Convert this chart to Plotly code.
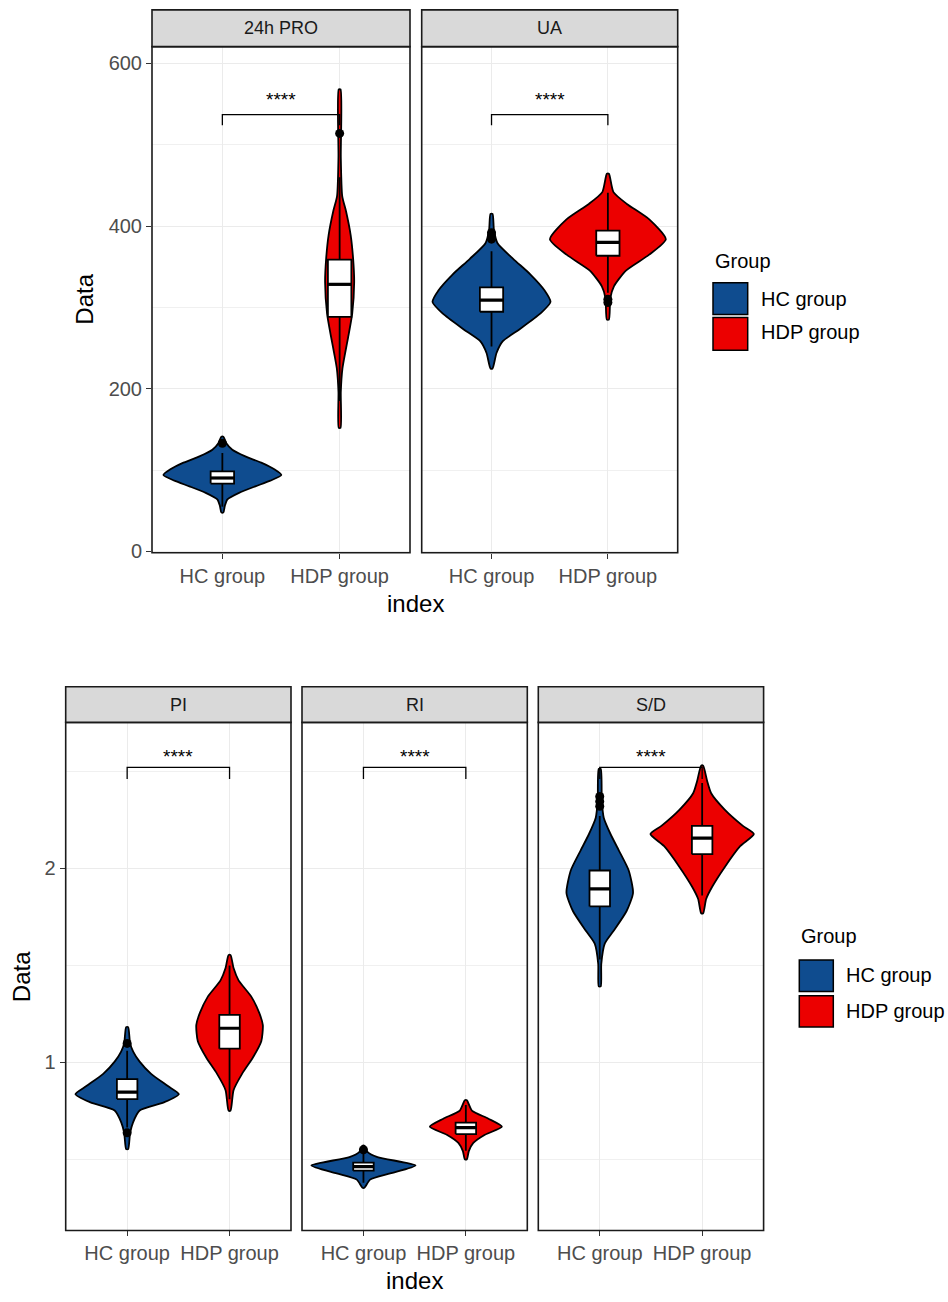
import plotly.graph_objects as go

# ---------------- data ----------------
CATEGORIES = ["HC group", "HDP group"]
PANELS = ["24h PRO", "UA", "PI", "RI", "S/D"]
SIG_LABELS = ["****", "****", "****", "****", "****"]

# violin outlines: value levels and half-widths (x-axis units)
PRO24_HC_Y = [48, 56, 64, 72, 80, 87, 94, 101, 108.6, 116.8, 125, 133, 141]
PRO24_HC_W = [0.009, 0.021, 0.043, 0.142, 0.281, 0.409, 0.503, 0.443, 0.341, 0.196, 0.085, 0.034, 0.009]
PRO24_HDP_Y = [152, 196, 225, 244, 263, 292, 331, 360, 389, 418, 437, 485, 568]
PRO24_HDP_W = [0.008, 0.010, 0.024, 0.047, 0.072, 0.107, 0.124, 0.115, 0.094, 0.055, 0.022, 0.010, 0.008]

UA_HC_Y = [225, 244, 258.5, 273, 292.3, 306.7, 321.2, 340.5, 359.8, 379, 395, 415]
UA_HC_W = [0.009, 0.043, 0.097, 0.239, 0.418, 0.507, 0.455, 0.335, 0.186, 0.052, 0.021, 0.009]
UA_HDP_Y = [285, 311.6, 326, 345.3, 364.6, 383.9, 408, 427.3, 441.8, 464.4]
UA_HDP_W = [0.009, 0.021, 0.052, 0.155, 0.352, 0.498, 0.358, 0.163, 0.048, 0.009]

PI_HC_Y = [0.553, 0.637, 0.690, 0.752, 0.794, 0.836, 0.878, 0.941, 1.004, 1.056, 1.098, 1.182]
PI_HC_W = [0.010, 0.029, 0.057, 0.122, 0.358, 0.505, 0.398, 0.234, 0.122, 0.059, 0.029, 0.010]
PI_HDP_Y = [0.752, 0.857, 0.941, 1.025, 1.109, 1.192, 1.255, 1.339, 1.423, 1.486, 1.553]
PI_HDP_W = [0.010, 0.039, 0.122, 0.228, 0.310, 0.325, 0.290, 0.212, 0.088, 0.039, 0.010]

RI_HC_Y = [0.354, 0.396, 0.428, 0.469, 0.512, 0.539, 0.570]
RI_HC_W = [0.010, 0.065, 0.261, 0.508, 0.137, 0.039, 0.010]
RI_HDP_Y = [0.501, 0.543, 0.585, 0.627, 0.669, 0.710, 0.752, 0.805]
RI_HDP_W = [0.010, 0.029, 0.073, 0.186, 0.352, 0.220, 0.059, 0.010]

SD_HC_Y = [1.392, 1.507, 1.612, 1.674, 1.779, 1.873, 1.989, 2.093, 2.177, 2.261, 2.35, 2.512]
SD_HC_W = [0.010, 0.015, 0.049, 0.130, 0.261, 0.325, 0.283, 0.186, 0.105, 0.039, 0.020, 0.010]
SD_HDP_Y = [1.769, 1.842, 1.905, 2.010, 2.114, 2.177, 2.219, 2.303, 2.387, 2.450, 2.529]
SD_HDP_W = [0.010, 0.039, 0.098, 0.225, 0.371, 0.505, 0.398, 0.220, 0.088, 0.049, 0.010]

# box statistics: [lower whisker, Q1, median, Q3, upper whisker]
PRO24_BOX_HC = [55, 83.4, 90.3, 98.5, 121]
PRO24_BOX_HDP = [185, 288.4, 328.4, 358.8, 460]
UA_BOX_HC = [252, 294.7, 309.1, 324.6, 369]
UA_BOX_HDP = [318, 363.6, 380, 394.5, 441]
PI_BOX_HC = [0.665, 0.811, 0.847, 0.914, 1.06]
PI_BOX_HDP = [0.81, 1.071, 1.176, 1.245, 1.50]
RI_BOX_HC = [0.38, 0.442, 0.463, 0.484, 0.535]
RI_BOX_HDP = [0.545, 0.631, 0.664, 0.690, 0.78]
SD_BOX_HC = [1.53, 1.804, 1.894, 1.989, 2.27]
SD_BOX_HDP = [1.86, 2.073, 2.156, 2.219, 2.44]

# outlier points
PRO24_OUT_HC = [133]
PRO24_OUT_HDP = [514]
UA_OUT_HC = [384, 388, 392]
UA_OUT_HDP = [306, 310]
PI_OUT_HC = [0.637, 1.098]
PI_OUT_HDP = []
RI_OUT_HC = [0.55]
RI_OUT_HDP = []
SD_OUT_HC = [2.32, 2.345, 2.37]
SD_OUT_HDP = []

TOP_YTICKS = [0, 200, 400, 600]
BOT_YTICKS = [1, 2]

# ---------------- structures built from the arrays ----------------
VIOLINS = [
    [(PRO24_HC_Y, PRO24_HC_W), (PRO24_HDP_Y, PRO24_HDP_W)],
    [(UA_HC_Y, UA_HC_W), (UA_HDP_Y, UA_HDP_W)],
    [(PI_HC_Y, PI_HC_W), (PI_HDP_Y, PI_HDP_W)],
    [(RI_HC_Y, RI_HC_W), (RI_HDP_Y, RI_HDP_W)],
    [(SD_HC_Y, SD_HC_W), (SD_HDP_Y, SD_HDP_W)],
]
BOXES = [
    [PRO24_BOX_HC, PRO24_BOX_HDP],
    [UA_BOX_HC, UA_BOX_HDP],
    [PI_BOX_HC, PI_BOX_HDP],
    [RI_BOX_HC, RI_BOX_HDP],
    [SD_BOX_HC, SD_BOX_HDP],
]
OUTLIERS = [
    [PRO24_OUT_HC, PRO24_OUT_HDP],
    [UA_OUT_HC, UA_OUT_HDP],
    [PI_OUT_HC, PI_OUT_HDP],
    [RI_OUT_HC, RI_OUT_HDP],
    [SD_OUT_HC, SD_OUT_HDP],
]

# ---------------- styling / layout ----------------
W, H = 948, 1302
FONT = "Liberation Sans, Arial, sans-serif"
COLORS = ["#0F4C8F", "#EC0000"]
GRID = "#EBEBEB"
TICKTXT = "#4D4D4D"
BOX_HALF = 0.1

# panel rectangles in pixels: (x0, x1, y0, y1)
PANEL_PX = [
    (152, 410, 47, 557),
    (421.7, 677.7, 47, 557),
    (65.7, 291, 728, 1240),
    (302, 527.3, 728, 1240),
    (538.3, 763.6, 728, 1240),
]
STRIP_PX = [(10, 47), (10, 47), (692, 728), (692, 728), (692, 728)]
TOP_RANGE = [-1.6, 620.7]
BOT_RANGE = [0.134, 2.752]


def px(xp):
    return xp / W


def py(yp):
    return 1 - yp / H


fig = go.Figure()
shapes = []
annotations = []
layout_axes = {}

for i, name in enumerate(PANELS):
    n = i + 1
    sfx = "" if n == 1 else str(n)
    xa, ya = "x" + sfx, "y" + sfx
    top = i < 2
    x0, x1, y0, y1 = PANEL_PX[i]

    # violins
    for g in range(2):
        levels, hw = VIOLINS[i][g]
        c = g + 1
        xs = [c - w for w in hw] + [c + w for w in reversed(hw)] + [c - hw[0]]
        ys = list(levels) + list(reversed(levels)) + [levels[0]]
        fig.add_trace(go.Scatter(
            x=xs, y=ys, xaxis=xa, yaxis=ya, mode="lines", fill="toself",
            fillcolor=COLORS[g], line=dict(color="black", width=1.8, shape="spline", smoothing=0.6),
            showlegend=False, hoverinfo="skip"))
    # boxplots (whiskers, box, median), drawn above violins
    for g in range(2):
        lo, q1, med, q3, hi = BOXES[i][g]
        c = g + 1
        fig.add_trace(go.Scatter(
            x=[c, c, None, c, c], y=[lo, q1, None, q3, hi], xaxis=xa, yaxis=ya,
            mode="lines", line=dict(color="black", width=1.8),
            showlegend=False, hoverinfo="skip"))
        fig.add_trace(go.Scatter(
            x=[c - BOX_HALF, c + BOX_HALF, c + BOX_HALF, c - BOX_HALF, c - BOX_HALF],
            y=[q1, q1, q3, q3, q1], xaxis=xa, yaxis=ya, mode="lines", fill="toself",
            fillcolor="white", line=dict(color="black", width=1.8),
            showlegend=False, hoverinfo="skip"))
        fig.add_trace(go.Scatter(
            x=[c - BOX_HALF, c + BOX_HALF], y=[med, med], xaxis=xa, yaxis=ya, mode="lines",
            line=dict(color="black", width=3.2), showlegend=False, hoverinfo="skip"))
        if OUTLIERS[i][g]:
            fig.add_trace(go.Scatter(
                x=[c] * len(OUTLIERS[i][g]), y=OUTLIERS[i][g], xaxis=xa, yaxis=ya,
                mode="markers", marker=dict(color="black", size=9),
                showlegend=False, hoverinfo="skip"))

    # significance bracket
    if top:
        ybar, ytip, ystar = 537, 524, 556
    else:
        ybar, ytip, ystar = 2.52, 2.46, 2.575
    fig.add_trace(go.Scatter(
        x=[1, 1, 2, 2], y=[ytip, ybar, ybar, ytip], xaxis=xa, yaxis=ya, mode="lines",
        line=dict(color="black", width=1.3), showlegend=False, hoverinfo="skip"))
    annotations.append(dict(x=1.5, y=ystar, xref=xa, yref=ya, text=SIG_LABELS[i],
                            showarrow=False, font=dict(family=FONT, size=19, color="black"),
                            xanchor="center", yanchor="middle"))

    # axes
    layout_axes["xaxis" + sfx] = dict(
        domain=[px(x0), px(x1)], range=[0.4, 2.6], anchor=ya,
        tickmode="array", tickvals=[1, 2], ticktext=CATEGORIES,
        showgrid=True, gridcolor=GRID, gridwidth=1, zeroline=False,
        ticks="outside", ticklen=5, tickwidth=1.3, tickcolor="#333333",
        tickfont=dict(family=FONT, size=20, color=TICKTXT), showline=False, fixedrange=True)
    first = (i == 0 or i == 2)
    layout_axes["yaxis" + sfx] = dict(
        domain=[py(y1), py(y0)], range=TOP_RANGE if top else BOT_RANGE, anchor=xa,
        tickmode="array", tickvals=TOP_YTICKS if top else BOT_YTICKS,
        showgrid=True, gridcolor=GRID, gridwidth=1, zeroline=False,
        minor=dict(showgrid=True, gridcolor="#F0F0F0", gridwidth=0.8,
                   tickmode="linear", tick0=0, dtick=100 if top else 0.5),
        ticks="outside" if first else "", ticklen=5, tickwidth=1.3, tickcolor="#333333",
        showticklabels=first,
        tickfont=dict(family=FONT, size=20, color=TICKTXT), showline=False, fixedrange=True)

    # panel border and strip
    shapes.append(dict(type="rect", xref="paper", yref="paper",
                       x0=px(x0), x1=px(x1), y0=py(y1), y1=py(y0),
                       line=dict(color="#1A1A1A", width=1.6), fillcolor="rgba(0,0,0,0)", layer="above"))
    s0, s1 = STRIP_PX[i]
    shapes.append(dict(type="rect", xref="paper", yref="paper",
                       x0=px(x0), x1=px(x1), y0=py(s1), y1=py(s0),
                       line=dict(color="#1A1A1A", width=1.6), fillcolor="#D9D9D9", layer="above"))
    annotations.append(dict(x=px((x0 + x1) / 2), y=py((s0 + s1) / 2), xref="paper", yref="paper",
                            text=name, showarrow=False, xanchor="center", yanchor="middle",
                            font=dict(family=FONT, size=18, color="#1A1A1A")))

# axis titles
for (xc, yc, txt, ang) in [(85, 302, "Data", -90), (21.7, 984, "Data", -90),
                           (415, 608, "index", 0), (414.6, 1290, "index", 0)]:
    annotations.append(dict(x=px(xc), y=py(yc), xref="paper", yref="paper", text=txt,
                            textangle=ang, showarrow=False, xanchor="center", yanchor="middle",
                            font=dict(family=FONT, size=24, color="black")))

# legends (ggplot-style keys)
for (gx, gy, kx0, kx1, keys, lx) in [
    (713, 262.7, 713, 747.7, [(285, 317, 301), (320, 353, 335)], 759),
    (799.3, 943.6, 799.3, 833.3, [(967.4, 999.3, 983), (1003.4, 1035, 1018.6)], 844),
]:
    annotations.append(dict(x=px(gx), y=py(gy), xref="paper", yref="paper", text="Group",
                            showarrow=False, xanchor="left", yanchor="middle",
                            font=dict(family=FONT, size=20, color="black")))
    for g, (k0, k1, ly) in enumerate(keys):
        shapes.append(dict(type="rect", xref="paper", yref="paper",
                           x0=px(kx0), x1=px(kx1), y0=py(k1), y1=py(k0),
                           line=dict(color="black", width=1.5), fillcolor=COLORS[g]))
        annotations.append(dict(x=px(lx), y=py(ly), xref="paper", yref="paper", text=CATEGORIES[g],
                                showarrow=False, xanchor="left", yanchor="middle",
                                font=dict(family=FONT, size=20, color="black")))

fig.update_layout(
    width=W, height=H, margin=dict(l=0, r=0, t=0, b=0),
    paper_bgcolor="white", plot_bgcolor="white",
    showlegend=False, shapes=shapes, annotations=annotations,
    font=dict(family=FONT), **layout_axes)

fig.write_html("out.html", config={"displayModeBar": False},
               post_script="document.body.style.margin='0';document.body.style.padding='0';")
